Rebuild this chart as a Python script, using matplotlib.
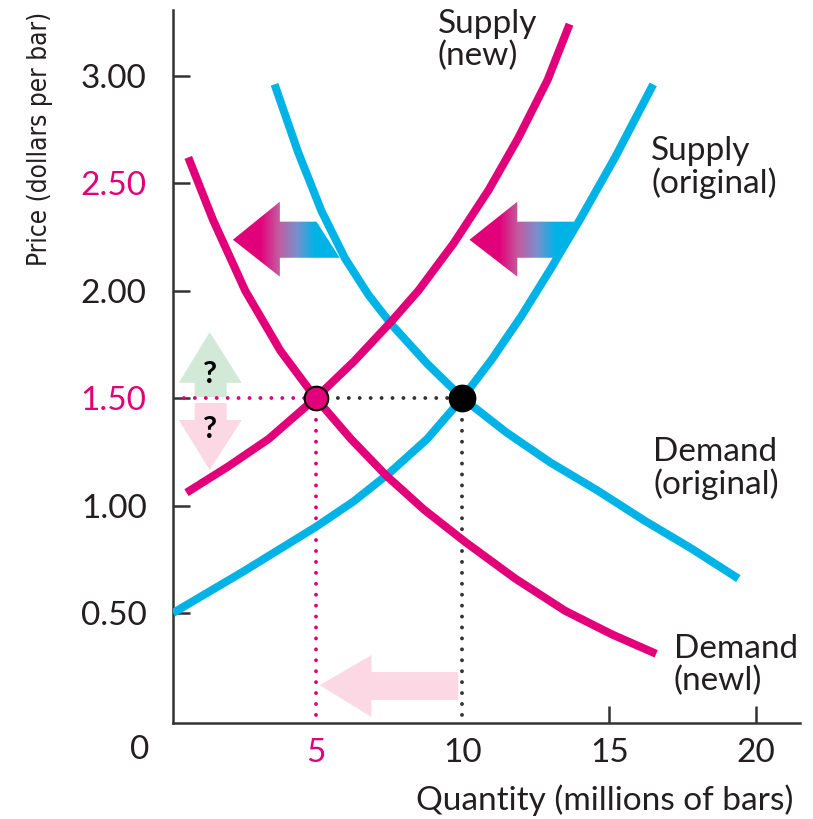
import numpy as np
import matplotlib
matplotlib.use('Agg')
import matplotlib.pyplot as plt
from matplotlib import font_manager
from matplotlib.font_manager import FontProperties
from matplotlib.patches import Polygon
from matplotlib.colors import LinearSegmentedColormap

# ---------------Data---------------
# Demand (original), blue
DEM_ORIG_Q = [3.6, 4.4, 5.2, 6.0, 6.8, 7.6, 8.8, 10.0, 11.5, 13.0, 14.6, 16.2, 17.8, 19.4]
DEM_ORIG_P = [2.96, 2.645, 2.37, 2.15, 1.98, 1.84, 1.66, 1.50, 1.34, 1.20, 1.07, 0.93, 0.80, 0.66]
# Supply (original), blue
SUP_ORIG_Q = [0.14, 2.5, 5.0, 6.3, 7.5, 8.8, 10.0, 11.0, 12.0, 13.0, 14.0, 15.2, 16.5]
SUP_ORIG_P = [0.50, 0.69, 0.90, 1.02, 1.15, 1.31, 1.50, 1.68, 1.88, 2.10, 2.33, 2.62, 2.96]
# Supply (new), pink
SUP_NEW_Q = [0.6, 2.0, 3.4, 5.0, 6.3, 7.6, 8.5, 9.7, 10.9, 11.9, 12.9, 13.65]
SUP_NEW_P = [1.06, 1.18, 1.31, 1.50, 1.67, 1.86, 2.00, 2.22, 2.47, 2.71, 2.98, 3.24]
# Demand (new), pink
DEM_NEW_Q = [0.66, 1.5, 2.6, 3.8, 5.0, 6.2, 7.4, 8.7, 10.1, 11.8, 13.5, 15.1, 16.6]
DEM_NEW_P = [2.62, 2.33, 2.00, 1.72, 1.50, 1.31, 1.14, 0.98, 0.83, 0.66, 0.51, 0.40, 0.31]

EQ_NEW = (5, 1.5)
EQ_ORIG = (10, 1.5)

X_TICKS = [5, 10, 15, 20]
X_LABELS = ['5', '10', '15', '20']
Y_TICKS = [0.5, 1.0, 1.5, 2.0, 2.5, 3.0]
Y_LABELS = ['0.50', '1.00', '1.50', '2.00', '2.50', '3.00']
# ----------------------------------

PINK = '#e2007a'
BLUE = '#00b3e6'
LIGHT_PINK = '#fbd8e3'
LIGHT_GREEN = '#d3e9d8'
TXT = '#231f20'
FONT = ['Lato', 'DejaVu Sans']

# narrow face for the y label if one is installed
narrow = [f for f in font_manager.fontManager.ttflist
          if f.style == 'normal' and f.weight in (400, 'normal', 'regular')
          and (f.stretch in ('condensed', 'semi-condensed', 'extra-condensed')
               or 'Narrow' in f.name or 'Condensed' in f.name)]
if narrow:
    YPROP = dict(fontproperties=FontProperties(fname=narrow[0].fname))
else:
    YPROP = dict(family=FONT)

fig = plt.figure(figsize=(8.13, 8.19), dpi=100)
ax = fig.add_axes([173 / 813, 1 - 723 / 819, (800 - 173) / 813, (723 - 10) / 819])
XLIM = (0.14, 21.5)
YLIM = (-0.012, 3.306)

lw = 5.8
for q, p, c in [(DEM_ORIG_Q, DEM_ORIG_P, BLUE), (SUP_ORIG_Q, SUP_ORIG_P, BLUE),
                (SUP_NEW_Q, SUP_NEW_P, PINK), (DEM_NEW_Q, DEM_NEW_P, PINK)]:
    ax.plot(q, p, color=c, lw=lw, solid_joinstyle='round', solid_capstyle='butt', zorder=3)

# dotted guide lines
dots = dict(lw=2.8, linestyle=(0, (0.01, 2.8)), dash_capstyle='round', zorder=2.5)
ax.plot([XLIM[0], EQ_NEW[0]], [EQ_NEW[1], EQ_NEW[1]], color=PINK, **dots)
ax.plot([EQ_NEW[0], EQ_NEW[0]], [EQ_NEW[1], 0], color=PINK, **dots)
ax.plot([EQ_NEW[0], EQ_ORIG[0]], [EQ_ORIG[1], EQ_ORIG[1]], color='#333333', **dots)
ax.plot([EQ_ORIG[0], EQ_ORIG[0]], [EQ_ORIG[1], 0], color='#333333', **dots)

ax.plot(*EQ_NEW, 'o', ms=17, mfc=PINK, mec='black', mew=1.5, zorder=5)
ax.plot(*EQ_ORIG, 'o', ms=19, mfc='black', mec='black', zorder=5)


def flat_arrow(xs, ys, color):
    ax.add_patch(Polygon(np.column_stack([xs, ys]), closed=True, fc=color, ec='none', zorder=2))


def grad_arrow(xs, ys, x0, x1):
    poly = Polygon(np.column_stack([xs, ys]), closed=True, fc='none', ec='none', transform=ax.transData)
    ax.add_patch(poly)
    xx = np.linspace(min(xs), max(xs), 300)
    t = np.clip((xx - x0) / (x1 - x0), 0, 1)
    cmap = LinearSegmentedColormap.from_list('pb', [PINK, '#c45a9e', '#7a8fcc', BLUE])
    im = ax.imshow(t[None, :], cmap=cmap, vmin=0, vmax=1, aspect='auto',
                   extent=[min(xs), max(xs), min(ys), max(ys)], zorder=2, interpolation='bilinear')
    im.set_clip_path(poly)


# shift arrows (supply moves left)
grad_arrow([2.18, 3.78, 3.78, 5.03, 5.82, 3.78, 3.78],
           [2.237, 2.414, 2.321, 2.321, 2.153, 2.153, 2.065], 3.1, 4.97)
grad_arrow([10.24, 11.87, 11.87, 13.81, 13.13, 11.87, 11.87],
           [2.237, 2.414, 2.321, 2.321, 2.153, 2.153, 2.065], 11.26, 13.2)
# quantity decrease arrow
flat_arrow([5.14, 6.90, 6.90, 9.86, 9.86, 6.90, 6.90],
           [0.164, 0.304, 0.225, 0.225, 0.095, 0.095, 0.016], LIGHT_PINK)
# price up / down arrows
flat_arrow([1.39, 2.48, 1.97, 1.97, 0.88, 0.88, 0.34],
           [1.807, 1.571, 1.571, 1.505, 1.505, 1.571, 1.571], LIGHT_GREEN)
flat_arrow([0.88, 1.97, 1.97, 2.48, 1.39, 0.34, 0.88],
           [1.477, 1.477, 1.398, 1.398, 1.165, 1.398, 1.398], LIGHT_PINK)
ax.text(1.39, 1.61, '?', ha='center', va='center', fontsize=22, fontweight='bold', family=FONT, color='black', zorder=4)
ax.text(1.39, 1.355, '?', ha='center', va='center', fontsize=22, fontweight='bold', family=FONT, color='black', zorder=4)

# curve labels
lab = dict(fontsize=24, family=FONT, color=TXT, ha='left', va='top', linespacing=1.05, clip_on=False)
ax.text(9.15, 3.31, 'Supply\n(new)', **lab)
ax.text(16.43, 2.72, 'Supply\n(original)', **lab)
ax.text(16.5, 1.32, 'Demand\n(original)', **lab)
ax.text(17.2, 0.40, 'Demand\n(newl)', **lab)

ax.set_xlim(*XLIM)
ax.set_ylim(*YLIM)

for s in ['top', 'right']:
    ax.spines[s].set_visible(False)
for s in ['left', 'bottom']:
    ax.spines[s].set_linewidth(1.8)
    ax.spines[s].set_color('#333333')

ax.set_xticks(X_TICKS)
ax.set_xticklabels(X_LABELS, family=FONT, fontsize=24)
ax.set_yticks(Y_TICKS)
ax.set_yticklabels(Y_LABELS, family=FONT, fontsize=24)
ax.tick_params(axis='both', direction='in', length=12, width=1.8, color='#333333', labelcolor=TXT)
ax.tick_params(axis='x', pad=11)
ax.tick_params(axis='y', pad=19)
for i in (0, 1):
    ax.xaxis.get_major_ticks()[i].tick1line.set_visible(False)
ax.get_xticklabels()[0].set_color(PINK)
ax.get_yticklabels()[2].set_color(PINK)
ax.get_yticklabels()[4].set_color(PINK)

ax.text(-0.99, -0.138, '0', ha='center', va='center', fontsize=24, family=FONT, color=TXT, clip_on=False)

ylab = fig.text(40 / 813, 1 - 12 / 819, 'Price (dollars per bar)', rotation=90, ha='center', va='top',
                color=TXT, **YPROP)
ylab.set_fontsize(20)
fig.text(605 / 813, 1 - 800 / 819, 'Quantity (millions of bars)', ha='center', va='center',
         fontsize=24, family=FONT, color=TXT)

# size the rotated y label: glyphs close to the source, length a little longer
fig.canvas.draw()
h = ylab.get_window_extent().height
ylab.set_fontsize(min(26, 20 * 255 / h))

fig.savefig('out.png', dpi=100)
